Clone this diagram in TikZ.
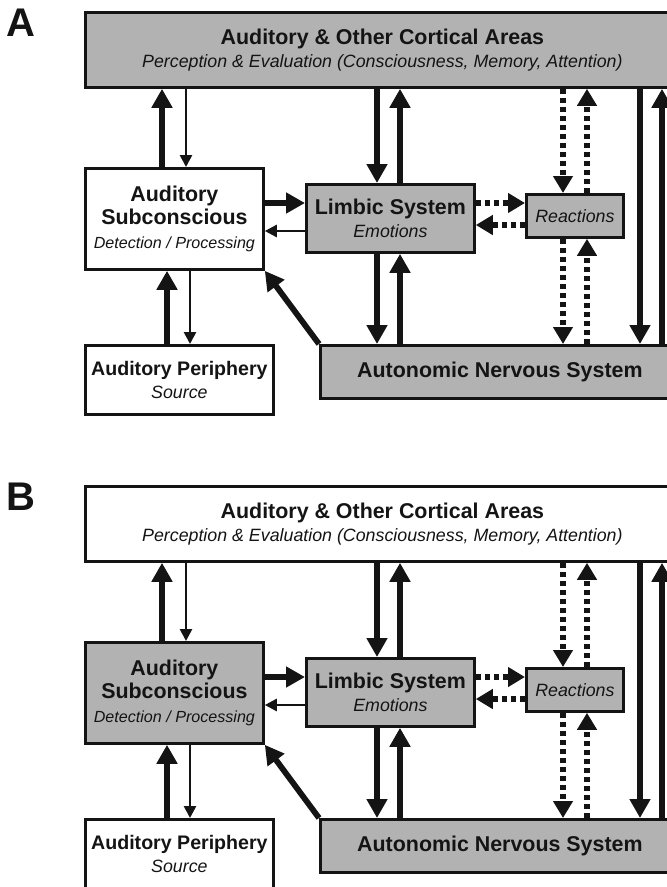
\documentclass[tikz,border=0pt]{standalone}
\usepackage{fontspec}
\setmainfont{Liberation Sans}
\usetikzlibrary{arrows.meta,calc}

\definecolor{boxgray}{gray}{0.70}
\definecolor{ink}{gray}{0.08}

% type sizes (1 unit = 1pt)
\newcommand\boxtitle{\bfseries\fontsize{21.4}{23.5}\selectfont}
\newcommand\boxsub{\mdseries\itshape\fontsize{17.8}{23.5}\selectfont}
\newcommand\boxsubsmall{\mdseries\itshape\fontsize{16.1}{23.5}\selectfont}
\newcommand\perititle{\bfseries\fontsize{19.6}{23.5}\selectfont}

\tikzset{
  box/.style={draw=ink, line width=2.8pt, inner sep=0pt, align=center,
    text=ink, anchor=north west, font=\boxtitle},
  heavy/.style={draw=ink, line width=5.8pt,
    -{Triangle[width=20pt,length=19pt]}},
  light/.style={draw=ink, line width=2.6pt,
    -{Triangle[width=12pt,length=12pt]}},
  dotarrow/.style={draw=ink, line width=5.6pt, dash pattern=on 5pt off 4pt,
    -{Triangle[width=19pt,length=17pt]}},
  panellabel/.style={font=\bfseries\fontsize{40}{44}\selectfont, text=ink,
    anchor=base west, inner sep=0pt},
}

% #1 name prefix, #2 panel letter, #3 cortex fill, #4 subconscious fill, #5 vertical shift
\newcommand\drawpanel[5]{%
\begin{scope}[yshift=#5, name prefix=#1-]
  \node[panellabel] (letter) at (6,36) {#2};

  % boxes
  \node[box, fill=#3, minimum width=594pt, minimum height=75pt] (cortex) at (84,11)
    {Auditory \& Other Cortical Areas\\{\boxsub Perception \& Evaluation (Consciousness, Memory, Attention)}};
  \node[box, fill=#4, minimum width=178pt, minimum height=101pt] (subc) at (84,167)
    {Auditory\\Subconscious\\{\boxsubsmall Detection / Processing}};
  \node[box, fill=white, minimum width=188pt, minimum height=69pt, font=\perititle] (peri) at (84,344)
    {Auditory Periphery\\{\boxsub Source}};
  \node[box, fill=boxgray, minimum width=168pt, minimum height=68pt] (limbic) at (305,183)
    {Limbic System\\{\boxsub Emotions}};
  \node[box, fill=boxgray, minimum width=97pt, minimum height=43pt, font=\boxsub] (react) at (525,193)
    {Reactions};
  \node[box, fill=boxgray, minimum width=359pt, minimum height=53pt] (ans) at (319,344)
    {Autonomic Nervous System};

  % lanes for the connectors
  \coordinate (xa) at (162,0);
  \coordinate (xb) at (186,0);
  \coordinate (xc) at (167,0);
  \coordinate (xd) at (190,0);
  \coordinate (xe) at (377,0);
  \coordinate (xf) at (400,0);
  \coordinate (xg) at (563,0);
  \coordinate (xh) at (587,0);
  \coordinate (xi) at (640,0);
  \coordinate (xj) at (662,0);
  \coordinate (ya) at (0,203);
  \coordinate (yb) at (0,231);
  \coordinate (yc) at (0,225);

  % subconscious <-> cortex / periphery
  \draw[heavy] (subc.north -| xa) -- (cortex.south -| xa);
  \draw[light] (cortex.south -| xb) -- (subc.north -| xb);
  \draw[heavy] (peri.north -| xc) -- (subc.south -| xc);
  \draw[light] (subc.south -| xd) -- (peri.north -| xd);

  % subconscious <-> limbic
  \draw[heavy] (subc.east |- ya) -- (limbic.west |- ya);
  \draw[light] (limbic.west |- yb) -- (subc.east |- yb);

  % limbic <-> cortex / autonomic
  \draw[heavy] (cortex.south -| xe) -- (limbic.north -| xe);
  \draw[heavy] (limbic.north -| xf) -- (cortex.south -| xf);
  \draw[heavy] (limbic.south -| xe) -- (ans.north -| xe);
  \draw[heavy] (ans.north -| xf) -- (limbic.south -| xf);

  % reactions
  \draw[dotarrow] (limbic.east |- ya) -- (react.west |- ya);
  \draw[dotarrow] (react.west |- yc) -- (limbic.east |- yc);
  \draw[dotarrow] (cortex.south -| xg) -- (react.north -| xg);
  \draw[dotarrow] (react.north -| xh) -- (cortex.south -| xh);
  \draw[dotarrow] (react.south -| xg) -- (ans.north -| xg);
  \draw[dotarrow] (ans.north -| xh) -- (react.south -| xh);

  % cortex <-> autonomic
  \draw[heavy] (cortex.south -| xi) -- (ans.north -| xi);
  \draw[heavy] (ans.north -| xj) -- (cortex.south -| xj);

  % autonomic -> subconscious
  \draw[heavy] (ans.north west) -- (subc.south east);
\end{scope}}

\begin{document}
\begin{tikzpicture}[x=1pt, y=-1pt]
  \useasboundingbox (0,0) rectangle (667,887);
  \clip (0,0) rectangle (667,887);
  \fill[white] (0,0) rectangle (667,887);
  \drawpanel{A}{A}{boxgray}{white}{0pt}
  \drawpanel{B}{B}{white}{boxgray}{-474pt}
\end{tikzpicture}
\end{document}
